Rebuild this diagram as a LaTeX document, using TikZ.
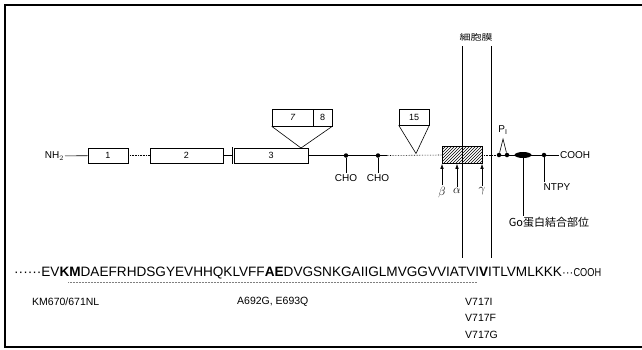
\documentclass[tikz,border=0pt]{standalone}
\usepackage{fontspec}
\setmainfont{Liberation Sans}
\newfontfamily\cjk{Noto Sans CJK JP}
\usetikzlibrary{patterns,arrows.meta,shapes.geometric}
\begin{document}
\begin{tikzpicture}[x=1pt,y=-1pt,
  dom/.style={draw, line width=0.6pt, inner sep=0pt, font=\fontsize{9}{9}\selectfont},
  dotn/.style={circle, fill=black, inner sep=0pt, minimum size=4.5pt},
  lbl/.style={font=\fontsize{10}{10}\selectfont, inner sep=1pt},
  greek/.style={inner sep=0pt, font=\fontsize{12.5}{12.5}\selectfont},
  mut/.style={font=\fontsize{10.5}{10.5}\selectfont, anchor=west, inner sep=0pt},
  main/.style={line width=0.6pt},
  dotl/.style={line width=0.6pt, densely dotted},
  arr/.style={line width=0.6pt, -{Latex[length=5pt,width=3.5pt]}}]
\useasboundingbox (0,0) rectangle (642,349);
% frame
\draw[line width=1.3pt] (642,5) -- (5,5) -- (5,347) -- (642,347);
% domains
\node[lbl, anchor=east] (nh) at (65,156) {NH$_2$};
\node[dom, minimum width=40pt, minimum height=15pt] (b1) at (108,155.5) {1};
\node[dom, minimum width=73pt, minimum height=15pt] (b2) at (186.5,155.5) {2};
\node[dom, minimum width=74pt, minimum height=15pt] (b3) at (271,155.5) {3};
\node[dom, minimum width=41pt, minimum height=17pt] (b7) at (292.5,117.5) {\itshape 7};
\node[dom, minimum width=19pt, minimum height=17pt] (b8) at (322.5,117.5) {8};
\node[dom, minimum width=30pt, minimum height=16pt] (b15) at (414,117) {15};
\node[draw, line width=0.6pt, minimum width=40pt, minimum height=17pt, inner sep=0pt, fill=white,
      postaction={pattern=north east lines}] (hb) at (462,155) {};
% points on main line
\coordinate (tick) at (232,155.5);
\coordinate (tickt) at (232,147);
\coordinate (tickb) at (232,164);
\coordinate (ins) at (301,148);
\coordinate (ins15) at (416,153.5);
\coordinate (sd1) at (387,155.5);
\coordinate (cend) at (559,155);
\node[dotn] (c1) at (346,155.5) {};
\node[dotn] (c2) at (378,155.5) {};
\node[dotn] (p1) at (499,155) {};
\node[dotn] (p2) at (507,155) {};
\node[ellipse, fill=black, minimum width=17pt, minimum height=6pt, inner sep=0pt] (go) at (523,155) {};
\node[dotn] (nt) at (544,155) {};
% main line
\draw[main] (nh) -- (b1);
\draw[dotl] (b1) -- (b2);
\draw[main] (b2.east) -- (tick);
\draw[line width=0.8pt] (tickt) -- (tickb);
\draw[main] (b3.east) -- (sd1);
\draw[dotl] (sd1) -- (hb.west);
\draw[dotl] (hb.east) -- (p1);
\draw[main] (p1) -- (cend);
\node[lbl, anchor=west] (cooh) at (cend) {COOH};
% inserts
\draw[main] (b7.south west) -- (ins) -- (b8.south east);
\draw[main] (b15.south west) -- (ins15) -- (b15.south east);
% CHO
\node[lbl] (cho1) at (346,178) {CHO};
\node[lbl] (cho2) at (378,178) {CHO};
\draw[main] (c1) -- (cho1.north);
\draw[main] (c2) -- (cho2.north);
% P
\node[lbl] (pl) at (503,130) {P$_{\mathrm{I}}$};
\coordinate (pap) at (503,139);
\draw[main] (p1) -- (pap) -- (p2);
% Go and NTPY
\node[font=\cjk\fontsize{11}{11}\selectfont, inner sep=1pt] (gol) at (549,222) {Go蛋白結合部位};
\draw[main] (go) -- (go |- gol.north);
\node[lbl] (ntl) at (557,187) {NTPY};
\draw[main] (nt) -- (nt |- ntl.north);
% cleavage arrows
\node[greek] (be) at (442,192) {$\beta$};
\node[greek] (al) at (457,191) {$\alpha$};
\node[greek] (ga) at (482,191) {$\gamma$};
\draw[arr] (be.north) ++(0,-1) -- (be |- hb.south);
\draw[arr] (al.north) ++(0,-1) -- (al |- hb.south);
\draw[arr] (ga.north) ++(0,-1) -- (ga |- hb.south);
% membrane
\node[inner sep=0pt] (mem) at (476,37) {\scalebox{1}[0.75]{\cjk\fontsize{11}{11}\selectfont 細胞膜}};
\coordinate (m1t) at (462,46);
\coordinate (m1b) at (462,258);
\coordinate (m2t) at (491,46);
\coordinate (m2b) at (491,258);
\draw[main] (m1t) -- (m1b);
\draw[main] (m2t) -- (m2b);
% sequence
\node[anchor=west, inner sep=0pt, font=\fontsize{13.6}{14}\selectfont] (seq) at (14,273)
 {······EV{\bfseries KM}DAEFRHDSGYEVHHQKLVFF{\bfseries AE}DVGSNKGAIIGLMVGGVVIATVI{\bfseries V}ITLVMLKKK{\fontsize{11.5}{12}\selectfont···\scalebox{0.8}[1]{COOH}}};
\coordinate (ul1) at (68,282.5);
\coordinate (ul2) at (477,282.5);
\draw[line width=0.5pt, densely dotted, gray] (ul1) -- (ul2);
% mutations
\node[mut] (m670) at (32,302) {KM670/671NL};
\node[mut] (m692) at (237,302) {A692G, E693Q};
\node[mut] (m717i) at (465,302) {V717I};
\node[mut] (m717f) at (465,318) {V717F};
\node[mut] (m717g) at (465,335) {V717G};
\end{tikzpicture}
\end{document}
